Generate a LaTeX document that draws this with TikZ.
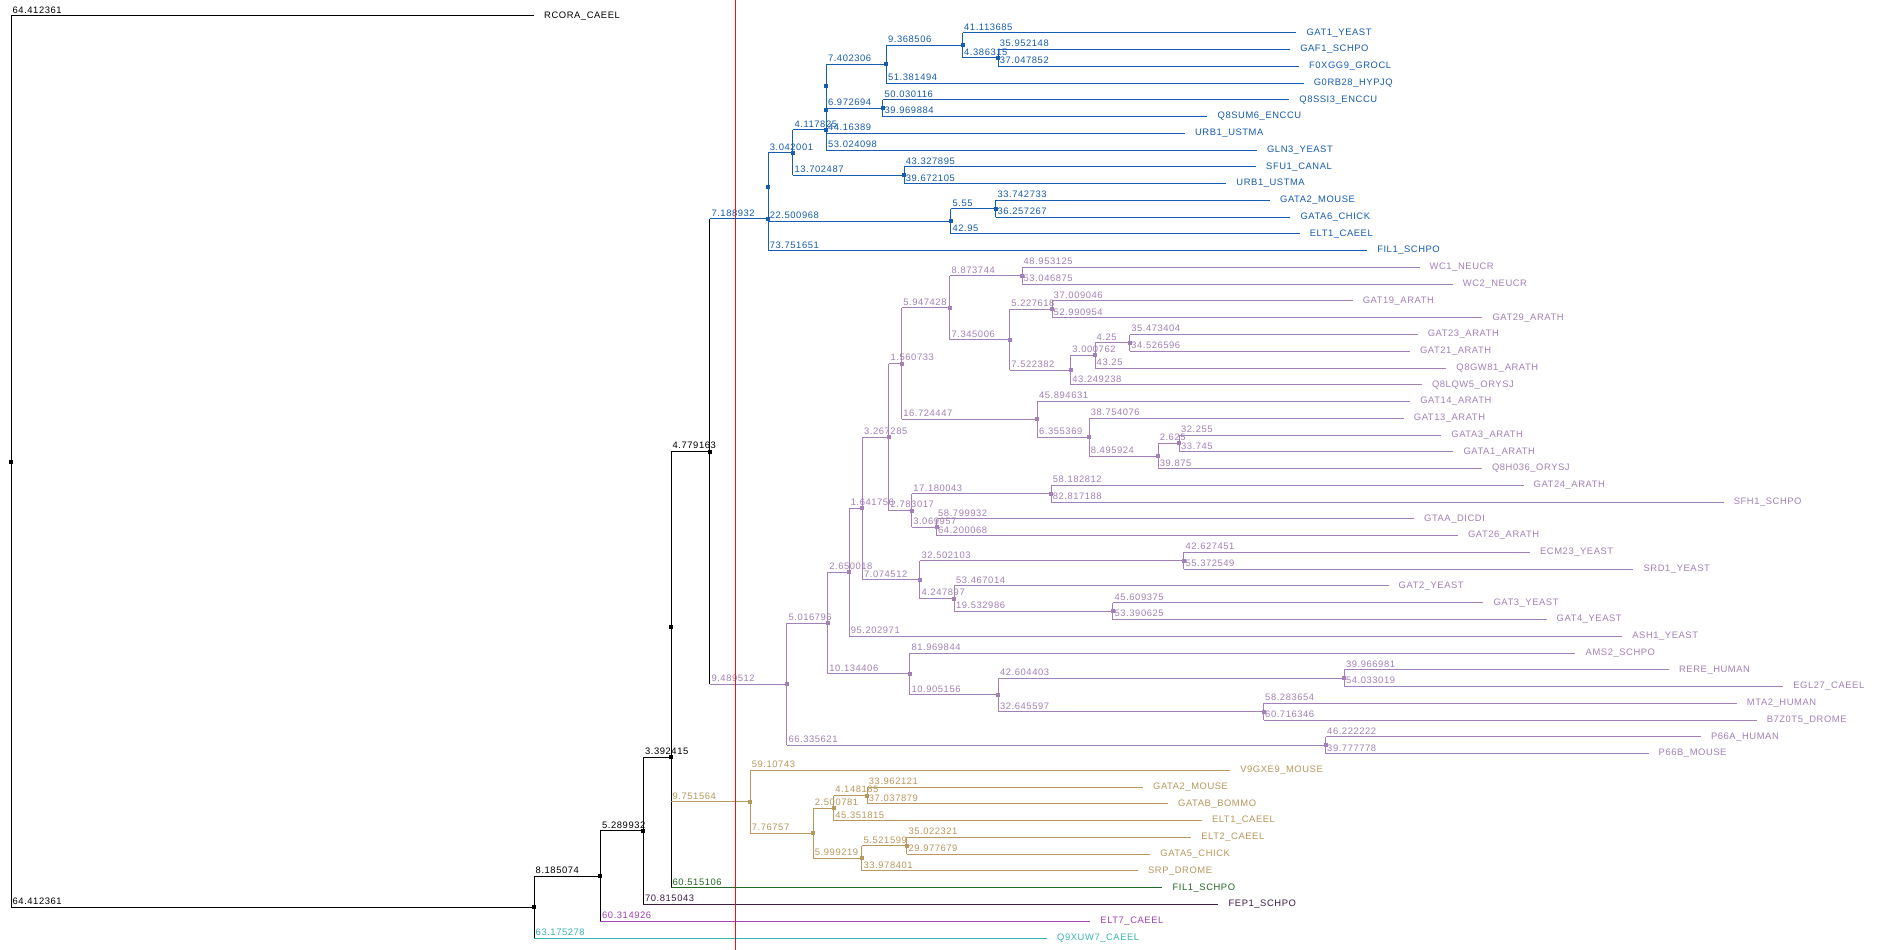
\documentclass[tikz,border=0pt]{standalone}
\usepackage{fontspec}
\setmainfont{Liberation Sans}[LetterSpace=6]
\definecolor{ck}{RGB}{0,0,0}
\definecolor{cb}{RGB}{22,92,176}
\definecolor{cp}{RGB}{164,128,184}
\definecolor{cw}{RGB}{184,152,92}
\definecolor{cg}{RGB}{36,104,40}
\definecolor{cd}{RGB}{62,28,72}
\definecolor{cmag}{RGB}{164,64,184}
\definecolor{ct}{RGB}{56,180,180}
\definecolor{cr}{RGB}{232,20,20}
\newcommand\lf{\fontsize{9.4}{10}\selectfont}
\def\K{8.12}
\newcommand\setY[3]{\pgfmathsetmacro\tmpv{(\csname ny#2\endcsname+\csname ny#3\endcsname)/2}\expandafter\global\expandafter\let\csname ny#1\endcsname\tmpv}
\newcommand\E[5]{%
  \pgfmathsetmacro\tmpx{\csname nx#1\endcsname+(#5)*\K}%
  \expandafter\global\expandafter\let\csname nx#2\endcsname\tmpx
  \coordinate (#2) at (\tmpx,\csname ny#2\endcsname);
  \draw[edge,draw=#3] (#1) -- (#1 |- #2);
  \draw[edge,draw=#4] (#1 |- #2) -- (#2);
  \node[blab,text=#4] (t#2) at (#1 |- #2) {#5};}
\newcommand\Z[3]{%
  \pgfmathsetmacro\tmpx{\csname nx#1\endcsname}%
  \expandafter\global\expandafter\let\csname nx#2\endcsname\tmpx
  \coordinate (#2) at (\tmpx,\csname ny#2\endcsname);
  \draw[edge,draw=#3] (#1) -- (#2);}
\newcommand\LF[6]{%
  \E{#1}{#2}{#3}{#4}{#5}
  \node[lname,text=#4] (n#2) at (#2) {#6};}
\begin{document}
\begin{tikzpicture}[x=1pt,y=-1pt,
  edge/.style={line width=1pt},
  blab/.style={anchor=base west,inner sep=0pt,xshift=1.5pt,yshift=2.6pt,font=\lf},
  lname/.style={anchor=base west,inner sep=0pt,xshift=10pt,yshift=-2.3pt,font=\lf}]
\fill[white] (0,0) rectangle (1884,950);
\useasboundingbox (0,0) rectangle (1884,950);
% leaf rows
\foreach \i in {0,...,55}{\pgfmathsetmacro\tmpv{16+16.764*\i}\expandafter\global\expandafter\let\csname nyl\i\endcsname\tmpv}
% internal rows (bottom-up)
\setY{w4}{l46}{l47}\setY{w2}{w4}{l48}\setY{w5}{l49}{l50}\setY{w3}{w5}{l51}
\setY{w1}{w2}{w3}\setY{BRN}{l45}{w1}
\setY{b998}{l2}{l3}\setY{b962}{l1}{b998}\setY{b886}{b962}{l4}\setY{b882}{l5}{l6}
\setY{bP}{b886}{b882}\setY{bQ}{bP}{l7}\setY{bR}{bQ}{l8}\setY{b904}{l9}{l10}
\setY{b1}{bR}{b904}\setY{b995}{l11}{l12}\setY{b950}{b995}{l13}\setY{b0}{b1}{b950}
\setY{BR}{b0}{l14}
\setY{p19}{l15}{l16}\setY{p21}{l17}{l18}\setY{p24}{l19}{l20}\setY{p23}{p24}{l21}
\setY{p22}{p23}{l22}\setY{p20}{p21}{p22}\setY{p17}{p19}{p20}
\setY{p27}{l25}{l26}\setY{p26}{p27}{l27}\setY{p25}{l24}{p26}\setY{p18}{l23}{p25}
\setY{p13}{p17}{p18}\setY{p15}{l28}{l29}\setY{p16}{l30}{l31}\setY{p14}{p15}{p16}
\setY{p9}{p13}{p14}\setY{pE}{l32}{l33}\setY{p12}{l35}{l36}\setY{p11}{l34}{p12}
\setY{p10}{pE}{p11}\setY{p8}{p9}{p10}\setY{p2}{p8}{l37}\setY{p5}{l39}{l40}
\setY{p6}{l41}{l42}\setY{p4}{p5}{p6}\setY{p3}{l38}{p4}\setY{p1}{p2}{p3}
\setY{p66}{l43}{l44}\setY{PR}{p1}{p66}
\setY{E}{BR}{PR}\setY{Dp}{E}{BRN}\setY{D}{Dp}{l52}\setY{C}{D}{l53}
\setY{B}{C}{l54}\setY{A}{B}{l55}\setY{root}{l0}{A}
\gdef\nxroot{11}
\coordinate (root) at (\nxroot,\nyroot);
% backbone
\E{root}{A}{ck}{ck}{64.412361}
\LF{root}{l0}{ck}{ck}{64.412361}{RCORA\_CAEEL}
\E{A}{B}{ck}{ck}{8.185074}
\LF{A}{l55}{ck}{ct}{63.175278}{Q9XUW7\_CAEEL}
\E{B}{C}{ck}{ck}{5.289932}
\LF{B}{l54}{ck}{cmag}{60.314926}{ELT7\_CAEEL}
\E{C}{D}{ck}{ck}{3.392415}
\LF{C}{l53}{ck}{cd}{70.815043}{FEP1\_SCHPO}
\Z{D}{Dp}{ck}
\LF{D}{l52}{ck}{cg}{60.515106}{FIL1\_SCHPO}
\E{Dp}{E}{ck}{ck}{4.779163}
\E{Dp}{BRN}{ck}{cw}{9.751564}
\E{E}{BR}{ck}{cb}{7.188932}
\E{E}{PR}{ck}{cp}{9.489512}
% blue
\Z{BR}{b0}{cb}
\LF{BR}{l14}{cb}{cb}{73.751651}{FIL1\_SCHPO}
\E{b0}{b1}{cb}{cb}{3.042001}
\E{b0}{b950}{cb}{cb}{22.500968}
\E{b1}{bR}{cb}{cb}{4.117825}
\E{b1}{b904}{cb}{cb}{13.702487}
\Z{bR}{bQ}{cb}
\LF{bR}{l8}{cb}{cb}{53.024098}{GLN3\_YEAST}
\Z{bQ}{bP}{cb}
\LF{bQ}{l7}{cb}{cb}{44.16389}{URB1\_USTMA}
\E{bP}{b886}{cb}{cb}{7.402306}
\E{bP}{b882}{cb}{cb}{6.972694}
\E{b886}{b962}{cb}{cb}{9.368506}
\LF{b886}{l4}{cb}{cb}{51.381494}{G0RB28\_HYPJQ}
\LF{b962}{l1}{cb}{cb}{41.113685}{GAT1\_YEAST}
\E{b962}{b998}{cb}{cb}{4.386315}
\LF{b998}{l2}{cb}{cb}{35.952148}{GAF1\_SCHPO}
\LF{b998}{l3}{cb}{cb}{37.047852}{F0XGG9\_GROCL}
\LF{b882}{l5}{cb}{cb}{50.030116}{Q8SSI3\_ENCCU}
\LF{b882}{l6}{cb}{cb}{39.969884}{Q8SUM6\_ENCCU}
\LF{b904}{l9}{cb}{cb}{43.327895}{SFU1\_CANAL}
\LF{b904}{l10}{cb}{cb}{39.672105}{URB1\_USTMA}
\E{b950}{b995}{cb}{cb}{5.55}
\LF{b950}{l13}{cb}{cb}{42.95}{ELT1\_CAEEL}
\LF{b995}{l11}{cb}{cb}{33.742733}{GATA2\_MOUSE}
\LF{b995}{l12}{cb}{cb}{36.257267}{GATA6\_CHICK}
% purple
\E{PR}{p1}{cp}{cp}{5.016796}
\E{PR}{p66}{cp}{cp}{66.335621}
\E{p1}{p2}{cp}{cp}{2.650018}
\E{p1}{p3}{cp}{cp}{10.134406}
\E{p2}{p8}{cp}{cp}{1.641756}
\LF{p2}{l37}{cp}{cp}{95.202971}{ASH1\_YEAST}
\E{p8}{p9}{cp}{cp}{3.267285}
\E{p8}{p10}{cp}{cp}{7.074512}
\E{p9}{p13}{cp}{cp}{1.560733}
\E{p9}{p14}{cp}{cp}{2.783017}
\E{p13}{p17}{cp}{cp}{5.947428}
\E{p13}{p18}{cp}{cp}{16.724447}
\E{p17}{p19}{cp}{cp}{8.873744}
\E{p17}{p20}{cp}{cp}{7.345006}
\LF{p19}{l15}{cp}{cp}{48.953125}{WC1\_NEUCR}
\LF{p19}{l16}{cp}{cp}{53.046875}{WC2\_NEUCR}
\E{p20}{p21}{cp}{cp}{5.227618}
\E{p20}{p22}{cp}{cp}{7.522382}
\LF{p21}{l17}{cp}{cp}{37.009046}{GAT19\_ARATH}
\LF{p21}{l18}{cp}{cp}{52.990954}{GAT29\_ARATH}
\E{p22}{p23}{cp}{cp}{3.000762}
\LF{p22}{l22}{cp}{cp}{43.249238}{Q8LQW5\_ORYSJ}
\E{p23}{p24}{cp}{cp}{4.25}
\LF{p23}{l21}{cp}{cp}{43.25}{Q8GW81\_ARATH}
\LF{p24}{l19}{cp}{cp}{35.473404}{GAT23\_ARATH}
\LF{p24}{l20}{cp}{cp}{34.526596}{GAT21\_ARATH}
\LF{p18}{l23}{cp}{cp}{45.894631}{GAT14\_ARATH}
\E{p18}{p25}{cp}{cp}{6.355369}
\LF{p25}{l24}{cp}{cp}{38.754076}{GAT13\_ARATH}
\E{p25}{p26}{cp}{cp}{8.495924}
\E{p26}{p27}{cp}{cp}{2.625}
\LF{p26}{l27}{cp}{cp}{39.875}{Q8H036\_ORYSJ}
\LF{p27}{l25}{cp}{cp}{32.255}{GATA3\_ARATH}
\LF{p27}{l26}{cp}{cp}{33.745}{GATA1\_ARATH}
\E{p14}{p15}{cp}{cp}{17.180043}
\E{p14}{p16}{cp}{cp}{3.069957}
\LF{p15}{l28}{cp}{cp}{58.182812}{GAT24\_ARATH}
\LF{p15}{l29}{cp}{cp}{82.817188}{SFH1\_SCHPO}
\LF{p16}{l30}{cp}{cp}{58.799932}{GTAA\_DICDI}
\LF{p16}{l31}{cp}{cp}{64.200068}{GAT26\_ARATH}
\E{p10}{pE}{cp}{cp}{32.502103}
\E{p10}{p11}{cp}{cp}{4.247897}
\LF{pE}{l32}{cp}{cp}{42.627451}{ECM23\_YEAST}
\LF{pE}{l33}{cp}{cp}{55.372549}{SRD1\_YEAST}
\LF{p11}{l34}{cp}{cp}{53.467014}{GAT2\_YEAST}
\E{p11}{p12}{cp}{cp}{19.532986}
\LF{p12}{l35}{cp}{cp}{45.609375}{GAT3\_YEAST}
\LF{p12}{l36}{cp}{cp}{53.390625}{GAT4\_YEAST}
\LF{p3}{l38}{cp}{cp}{81.969844}{AMS2\_SCHPO}
\E{p3}{p4}{cp}{cp}{10.905156}
\E{p4}{p5}{cp}{cp}{42.604403}
\E{p4}{p6}{cp}{cp}{32.645597}
\LF{p5}{l39}{cp}{cp}{39.966981}{RERE\_HUMAN}
\LF{p5}{l40}{cp}{cp}{54.033019}{EGL27\_CAEEL}
\LF{p6}{l41}{cp}{cp}{58.283654}{MTA2\_HUMAN}
\LF{p6}{l42}{cp}{cp}{60.716346}{B7Z0T5\_DROME}
\LF{p66}{l43}{cp}{cp}{46.222222}{P66A\_HUMAN}
\LF{p66}{l44}{cp}{cp}{39.777778}{P66B\_MOUSE}
% brown
\LF{BRN}{l45}{cw}{cw}{59.10743}{V9GXE9\_MOUSE}
\E{BRN}{w1}{cw}{cw}{7.76757}
\E{w1}{w2}{cw}{cw}{2.500781}
\E{w1}{w3}{cw}{cw}{5.999219}
\E{w2}{w4}{cw}{cw}{4.148185}
\LF{w2}{l48}{cw}{cw}{45.351815}{ELT1\_CAEEL}
\LF{w4}{l46}{cw}{cw}{33.962121}{GATA2\_MOUSE}
\LF{w4}{l47}{cw}{cw}{37.037879}{GATAB\_BOMMO}
\E{w3}{w5}{cw}{cw}{5.521599}
\LF{w3}{l51}{cw}{cw}{33.978401}{SRP\_DROME}
\LF{w5}{l49}{cw}{cw}{35.022321}{ELT2\_CAEEL}
\LF{w5}{l50}{cw}{cw}{29.977679}{GATA5\_CHICK}
% node markers
\foreach \n/\c in {root/ck,A/ck,B/ck,C/ck,D/ck,Dp/ck,E/ck,
  BR/cb,b0/cb,b1/cb,bR/cb,bQ/cb,bP/cb,b886/cb,b962/cb,b998/cb,b882/cb,b904/cb,b950/cb,b995/cb,
  PR/cp,p1/cp,p2/cp,p3/cp,p4/cp,p5/cp,p6/cp,p8/cp,p9/cp,p10/cp,p11/cp,p12/cp,p13/cp,p14/cp,p15/cp,p16/cp,
  p17/cp,p18/cp,p19/cp,p20/cp,p21/cp,p22/cp,p23/cp,p24/cp,p25/cp,p26/cp,p27/cp,pE/cp,p66/cp,
  BRN/cw,w1/cw,w2/cw,w3/cw,w4/cw,w5/cw}
  {\fill[fill=\c] (\n) +(-2,-2) rectangle +(2,2);}
% red marker line
\coordinate (rtop) at (735.3,0);
\coordinate (rbot) at (735.3,950);
\draw[draw=cr,line width=1.3pt] (rtop) -- (rbot);
\end{tikzpicture}
\end{document}
